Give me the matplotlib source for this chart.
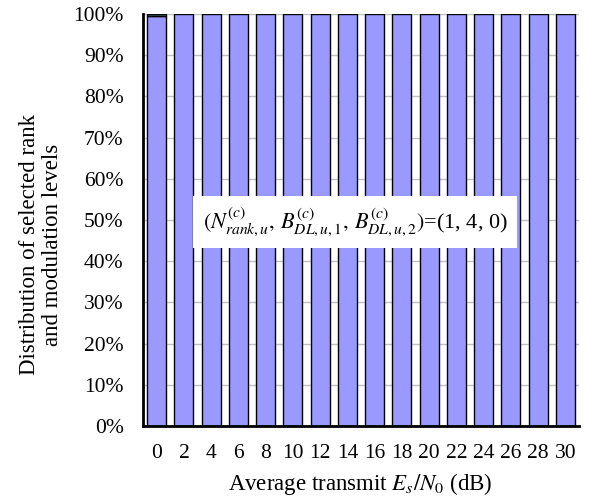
import matplotlib.pyplot as plt
import numpy as np

plt.rcParams['font.family'] = 'Liberation Serif'
plt.rcParams['mathtext.fontset'] = 'stix'

snr_db = ['0', '2', '4', '6', '8', '10', '12', '14', '16', '18', '20', '22', '24', '26', '28', '30']
# share of (1, 4, 0) and of the other levels, percent
share_140 = [99.5, 100, 100, 100, 100, 100, 100, 100, 100, 100, 100, 100, 100, 100, 100, 100]
share_other = [0.5, 0, 0, 0, 0, 0, 0, 0, 0, 0, 0, 0, 0, 0, 0, 0]

fig = plt.figure(figsize=(5.96, 5.03), dpi=100)
ax = fig.add_axes([143/596, 1 - 426/503, 436/596, 412/503])

x = np.arange(len(snr_db))
ax.bar(x, share_140, width=0.7, color='#9999FF', edgecolor='black', linewidth=1, zorder=2)
oth = np.array(share_other)
ax.bar(x[oth > 0], oth[oth > 0], bottom=np.array(share_140)[oth > 0], width=0.7,
       color='#336666', edgecolor='black', linewidth=1, zorder=2)

ax.set_xlim(-0.5, len(snr_db) - 0.5)
ax.set_ylim(0, 100)
ax.set_yticks(range(0, 101, 10))
ax.set_yticklabels([f'{v}%' for v in range(0, 101, 10)])
ax.set_xticks(x)
ax.set_xticklabels(snr_db)
ax.tick_params(length=0, labelsize=15.5)
ax.tick_params(axis='y', pad=14)
ax.tick_params(axis='x', pad=13)
ax.yaxis.grid(True, color='#C0C0C0', linewidth=1, zorder=0)
ax.set_axisbelow(True)

for s in ['top', 'right']:
    ax.spines[s].set_visible(False)
for s in ['left', 'bottom']:
    ax.spines[s].set_linewidth(2)

ax.set_xlabel(r'Average transmit $E_s/N_0$ (dB)', fontsize=16.5)
ax.xaxis.set_label_coords(0.497, -0.11)
ax.set_ylabel('Distribution of selected rank\nand modulation levels', fontsize=16.5, linespacing=1.15)
ax.yaxis.set_label_coords(-0.183, 0.44)

ax.text(7.28, 49.5,
        r'$(N^{(c)}_{rank,u},\, B^{(c)}_{DL,u,1},\, B^{(c)}_{DL,u,2})$=(1, 4, 0)',
        fontsize=16, ha='center', va='center', zorder=5,
        bbox=dict(boxstyle='square,pad=0.45', facecolor='white', edgecolor='none'))

fig.savefig('out.png', dpi=100)
